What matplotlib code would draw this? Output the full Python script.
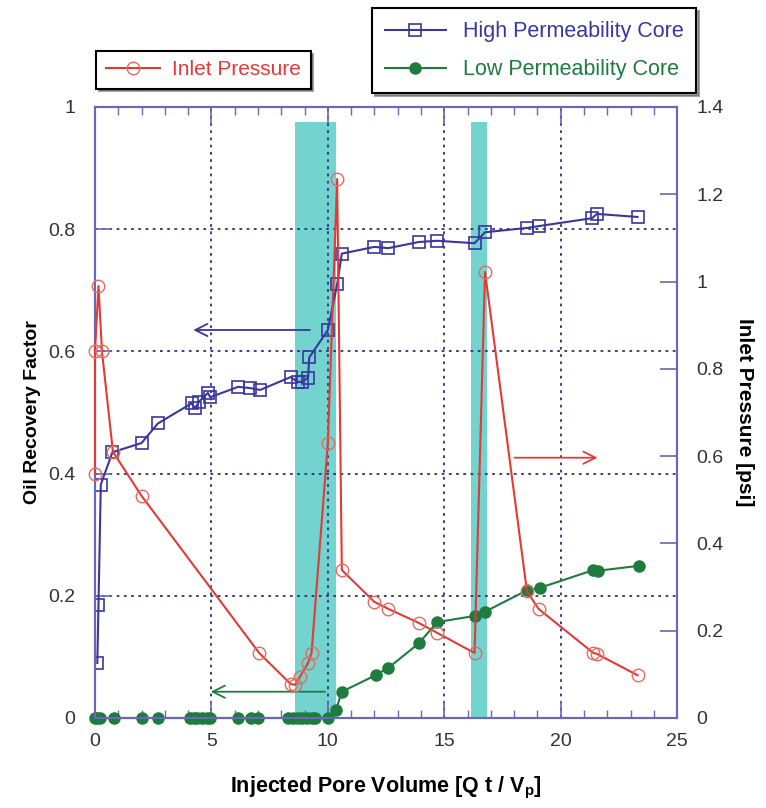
import matplotlib
matplotlib.use("Agg")
import matplotlib.pyplot as plt
from matplotlib.ticker import MultipleLocator, FuncFormatter

plt.rcParams['font.family'] = ['Liberation Sans', 'DejaVu Sans']

# High permeability core (left axis)
high_x = [0.1, 0.15, 0.25, 0.75, 2.0, 2.7, 4.15, 4.3, 4.45, 4.85, 4.95, 6.15, 6.65, 7.1,
          8.4, 8.7, 8.9, 9.15, 9.2, 10.0, 10.4, 10.6, 12.0, 12.6, 13.9, 14.7, 16.3, 16.75,
          18.55, 19.05, 21.35, 21.55, 23.3]
high_y = [0.09, 0.185, 0.382, 0.435, 0.45, 0.482, 0.515, 0.507, 0.517, 0.532, 0.525, 0.542,
          0.54, 0.537, 0.558, 0.55, 0.55, 0.557, 0.59, 0.635, 0.71, 0.76, 0.771, 0.769, 0.779,
          0.781, 0.777, 0.795, 0.802, 0.805, 0.818, 0.825, 0.82]

# Low permeability core (left axis)
low_x = [0.0, 0.1, 0.2, 0.8, 2.0, 2.7, 4.1, 4.25, 4.4, 4.6, 4.8, 4.95, 6.15, 6.7, 7.0,
         8.3, 8.5, 8.7, 8.9, 9.1, 9.3, 9.45, 10.0, 10.35, 10.6, 12.05, 12.6, 13.9, 14.7,
         16.3, 16.75, 18.55, 19.1, 21.4, 21.6, 23.35]
low_y = [0, 0, 0, 0, 0, 0, 0, 0, 0, 0, 0, 0, 0, 0, 0,
         0, 0, 0, 0, 0, 0, 0, 0, 0.013, 0.043, 0.07, 0.082, 0.122, 0.157,
         0.167, 0.174, 0.209, 0.213, 0.242, 0.241, 0.249]

# Inlet pressure (right axis, psi)
press_x = [0.0, 0.0, 0.15, 0.3, 0.77, 2.0, 7.05, 8.4, 8.6, 8.8, 9.15, 9.3, 10.0, 10.4,
           10.6, 12.0, 12.6, 13.9, 14.7, 16.3, 16.75, 18.55, 19.05, 21.4, 21.55, 23.3]
press_y = [0.56, 0.84, 0.99, 0.84, 0.61, 0.509, 0.149, 0.078, 0.076, 0.094, 0.126, 0.149,
           0.63, 1.235, 0.339, 0.266, 0.25, 0.218, 0.195, 0.149, 1.022, 0.29, 0.25, 0.149,
           0.147, 0.098]

# shaded injection intervals
spans = [(8.6, 10.35), (16.15, 16.85)]

red = '#e23a35'
blue = '#3a36a0'
green = '#1d7c3e'
spine_c = '#6a66b8'
grid_c = '#2e2e78'

fig = plt.figure(figsize=(7.66, 8.08), dpi=100)
ax = fig.add_axes([0.124, 0.1114, 0.76, 0.7562])
ax2 = ax.twinx()

for a, b in spans:
    ax.axvspan(a, b, ymin=0, ymax=0.975, color='#72d3cf', zorder=0, lw=0)

ax.plot(high_x, high_y, color=blue, marker='s', ms=8.5, mfc='none', mec=blue, mew=1.2,
        lw=1.5, label='High Permeability Core', zorder=3)
ax.plot(low_x, low_y, color=green, marker='o', ms=8, mfc=green, mec=green,
        lw=1.5, label='Low Permeability Core', zorder=3, clip_on=False)
ax2.plot(press_x, press_y, color=red, marker='o', ms=9, mfc='none', mec='#e86a60', mew=1.0,
         lw=1.5, label='Inlet Pressure', zorder=3, clip_on=False)

# arrows pointing to the relevant axis
ax.annotate('', xy=(4.1, 0.635), xytext=(9.35, 0.635),
            arrowprops=dict(arrowstyle='->', color=blue, lw=1.3, mutation_scale=22))
ax.annotate('', xy=(4.85, 0.043), xytext=(10.0, 0.043),
            arrowprops=dict(arrowstyle='->', color=green, lw=1.3, mutation_scale=22))
ax.annotate('', xy=(21.7, 0.426), xytext=(17.9, 0.426),
            arrowprops=dict(arrowstyle='->', color=red, lw=1.3, mutation_scale=22))

ax.set_xlim(0, 25)
ax.set_ylim(0, 1)
ax2.set_ylim(0, 1.4)

fmt = FuncFormatter(lambda v, p: '{:g}'.format(round(v, 2)))
ax.xaxis.set_major_locator(MultipleLocator(5))
ax.xaxis.set_minor_locator(MultipleLocator(1))
ax.yaxis.set_major_locator(MultipleLocator(0.2))
ax.yaxis.set_major_formatter(fmt)
ax2.yaxis.set_major_locator(MultipleLocator(0.2))
ax2.yaxis.set_major_formatter(fmt)

ax.grid(True, which='major', color=grid_c, ls=(0, (1.5, 2.5)), lw=1.3)

for a in (ax, ax2):
    for s in a.spines.values():
        s.set_color(spine_c)
        s.set_linewidth(1.5)
ax.tick_params(axis='x', which='both', direction='in', top=True, colors=spine_c,
               labelcolor='#333333', labelsize=14, pad=11)
ax.tick_params(axis='x', which='major', length=12, width=1.2)
ax.tick_params(axis='x', which='minor', length=6, width=1.0)
ax.tick_params(axis='y', direction='in', length=12, width=1.2, colors=spine_c,
               labelcolor='#333333', labelsize=14, pad=14)
ax2.tick_params(axis='y', direction='in', length=12, width=1.2, colors=spine_c,
                labelcolor='#333333', labelsize=14, pad=14)

ax.set_ylabel('Oil Recovery Factor', fontsize=14, fontweight='bold', labelpad=5)
ax2.set_ylabel('Inlet Pressure [psi]', fontsize=15, fontweight='bold', rotation=270,
               labelpad=22)
ax.set_xlabel(r'Injected Pore Volume [Q t / V$_{\mathregular{p}}$]', fontsize=15.5,
              fontweight='bold', labelpad=18)

leg1 = fig.legend(handles=ax2.get_lines(), loc='upper left', bbox_to_anchor=(0.112, 0.95),
                  fontsize=15, frameon=True, fancybox=False, shadow=True,
                  handlelength=2.6, borderpad=0.45, handletextpad=0.6)
leg1.get_frame().set_edgecolor('black')
leg1.get_frame().set_linewidth(1.5)
for t in leg1.get_texts():
    t.set_color(red)

leg2 = fig.legend(handles=ax.get_lines(), loc='upper left', bbox_to_anchor=(0.472, 1.003),
                  fontsize=15.5, frameon=True, fancybox=False, shadow=True,
                  handlelength=2.8, borderpad=0.6, labelspacing=0.8)
leg2.get_frame().set_edgecolor('black')
leg2.get_frame().set_linewidth(1.5)
for t, c in zip(leg2.get_texts(), [blue, green]):
    t.set_color(c)

fig.savefig('out.png', dpi=100)
